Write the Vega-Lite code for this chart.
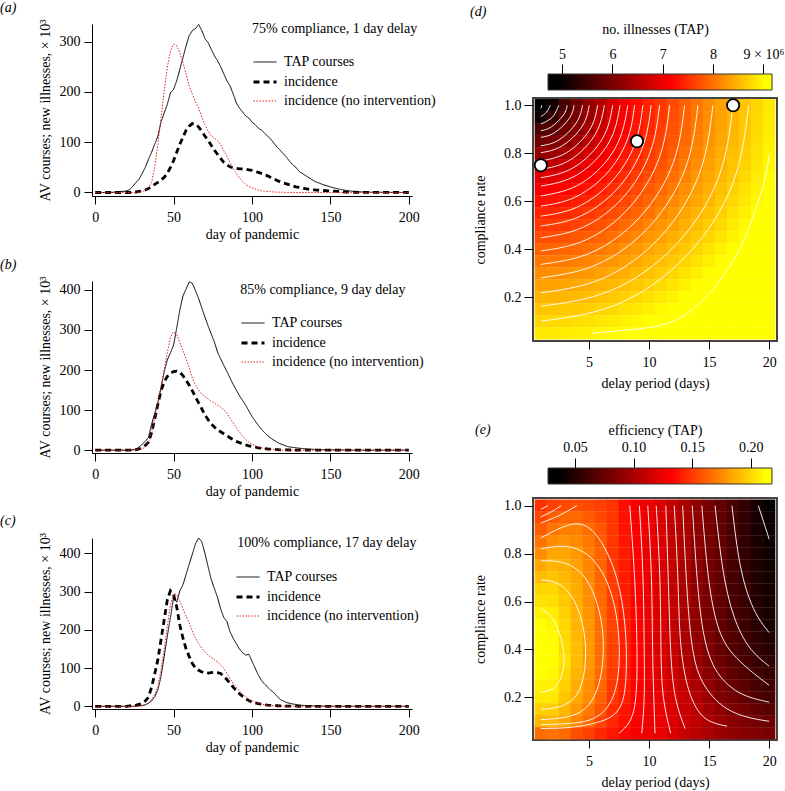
{
"$schema":"https://vega.github.io/schema/vega-lite/v6.json",
"padding":0,
"background":"white",
"config":{"font":"Liberation Serif","view":{"stroke":null},
"axis":{"labelFont":"Liberation Serif","titleFont":"Liberation Serif","labelFontSize":14,"titleFontSize":14,"titleFontWeight":"normal","labelColor":"#000","titleColor":"#000","domainColor":"#000","tickColor":"#000","grid":false,"tickSize":8,"domainWidth":1,"tickWidth":1},
"legend":{"labelFont":"Liberation Serif","labelFontSize":14,"labelColor":"#000"},
"title":{"font":"Liberation Serif","fontSize":14,"fontWeight":"normal","color":"#000"}},
"datasets":{
"lines":[
{"panel":"a","day":[0,10,20,22,24,26,28,30,32,34,36,38,40,42,44,46,48,50,52,54,56,58,60,62,64,66,68,70,72,74,76,78,80,82,84,86,88,90,92,94,96,98,100,102,104,106,108,110,112,114,116,118,120,122,124,126,128,130,135,140,145,150,155,160,165,170,175,200],
"TAP courses":[0,0,3,6,12,20,26,38,50,66,80,96,112,140,158,175,198,205,222,245,268,292,312,322,326,334,322,306,298,285,272,262,250,236,222,212,196,178,168,160,152,148,140,135,128,124,118,112,106,98,90,84,77,70,62,55,50,42,32,22,16,11,7,4,2,1,0.5,0],
"incidence":[0,0,0,0,1,1,2,3,5,8,12,16,20,25,30,38,50,63,80,96,110,124,132,137,136,130,122,112,104,94,84,76,68,60,55,51,49,48,47,47,46,45,44,42,40,38,36,33,30,27,24,21,19,17,15,13,11,10,7,5,4,3,2,1,0.5,0.3,0.2,0],
"incidence (no intervention)":[0,0,0,0,0,0,1,2,4,8,20,50,96,149,200,248,281,295,292,278,258,235,212,195,180,168,150,135,122,113,108,103,95,83,72,60,48,38,29,22,16,12,9,7,5,3.5,2.5,2,1.5,1,0.7,0.5,0.3,0,0,0,0,0,0,0,0,0,0,0,0,0,0,0]},
{"panel":"b","day":[0,10,20,22,24,26,28,30,32,34,36,38,40,42,44,46,48,50,52,54,56,58,60,62,64,66,68,70,72,74,76,78,80,82,84,86,88,90,92,94,96,98,100,102,104,106,108,110,112,114,116,118,120,122,124,126,128,130,135,140,145,150,155,160,165,170,175,200],
"TAP courses":[0,0,0,0,1,3,8,15,22,32,65,92,118,156,195,225,243,262,305,350,385,402,420,416,398,378,355,332,310,290,270,245,228,212,196,180,164,150,136,124,112,98,84,73,62,52,44,36,30,25,20,16,13,10,8,7,6,5,3,2,1.5,1,0.5,0.3,0,0,0,0],
"incidence":[0,0,0,0,0,1,3,6,12,20,44,78,115,148,170,184,192,196,197,194,186,174,162,148,132,118,103,88,76,66,58,51,46,41,36,31,26,22,19,16,13,11,9,8,6,5,4,3,2.5,2,1.5,1,0.8,0.6,0.5,0.4,0.3,0.2,0,0,0,0,0,0,0,0,0,0],
"incidence (no intervention)":[0,0,0,0,0,1,2,3,8,20,45,80,120,160,200,243,281,295,288,268,248,228,205,180,162,150,140,133,128,122,118,112,108,101,93,80,68,56,45,34,27,20,15,11,8,6,4,3,2,1.5,1,0.7,0.5,0.3,0,0,0,0,0,0,0,0,0,0,0,0,0,0]},
{"panel":"c","day":[0,10,20,22,24,26,28,30,32,34,36,38,40,42,44,46,48,50,52,54,56,58,60,62,64,66,68,70,72,74,76,78,80,82,84,86,88,90,92,94,96,98,100,102,104,106,108,110,112,114,116,118,120,122,124,126,128,130,135,140,145,150,155,160,165,170,175,200],
"TAP courses":[0,0,0,0,0,1,1,2,4,8,14,25,43,78,130,183,232,285,272,302,318,345,372,398,425,440,430,400,365,332,308,285,255,232,222,195,178,164,150,140,134,136,118,100,82,68,58,50,42,35,26,18,14,10,8,6,5,3,2,1,0.5,0.3,0,0,0,0,0,0],
"incidence":[0,0,0,1,2,3,5,9,14,24,50,85,122,174,226,278,302,292,260,212,178,150,130,112,100,94,90,88,87,88,89,88,86,78,70,60,50,41,33,26,20,15,11,9,7,5.5,4,3,2.5,2,1.5,1,0.8,0.6,0.5,0.4,0.3,0.2,0,0,0,0,0,0,0,0,0,0],
"incidence (no intervention)":[0,0,0,0,0,0,1,2,4,9,18,32,52,95,148,209,265,294,292,275,255,235,218,197,178,164,152,142,134,128,122,116,108,100,86,72,60,50,40,32,24,18,14,11,8,6,4,3,2,1.5,1,0.7,0.5,0.3,0,0,0,0,0,0,0,0,0,0,0,0,0,0]}
],
"heatD":[
{"compliance":1.0,"delay":[1,2,3,4,5,6,7,8,9,10,11,12,13,14,15,16,17,18,19,20],"illnesses":[4.73,5.10,5.57,5.91,6.21,6.53,6.85,7.08,7.27,7.43,7.58,7.73,7.88,8.04,8.20,8.35,8.49,8.62,8.75,8.88]},
{"compliance":0.95,"delay":[1,2,3,4,5,6,7,8,9,10,11,12,13,14,15,16,17,18,19,20],"illnesses":[5.10,5.40,5.72,5.99,6.27,6.60,6.89,7.11,7.29,7.44,7.59,7.74,7.89,8.05,8.21,8.36,8.50,8.63,8.76,8.89]},
{"compliance":0.9,"delay":[1,2,3,4,5,6,7,8,9,10,11,12,13,14,15,16,17,18,19,20],"illnesses":[5.57,5.72,5.91,6.14,6.40,6.71,6.97,7.16,7.33,7.47,7.62,7.77,7.91,8.07,8.23,8.38,8.51,8.64,8.77,8.91]},
{"compliance":0.85,"delay":[1,2,3,4,5,6,7,8,9,10,11,12,13,14,15,16,17,18,19,20],"illnesses":[5.91,5.99,6.14,6.34,6.60,6.85,7.06,7.23,7.38,7.52,7.66,7.80,7.95,8.11,8.27,8.40,8.53,8.66,8.80,8.93]},
{"compliance":0.8,"delay":[1,2,3,4,5,6,7,8,9,10,11,12,13,14,15,16,17,18,19,20],"illnesses":[6.21,6.27,6.40,6.60,6.80,7.00,7.16,7.31,7.44,7.58,7.71,7.85,8.00,8.16,8.31,8.44,8.56,8.69,8.83,8.95]},
{"compliance":0.75,"delay":[1,2,3,4,5,6,7,8,9,10,11,12,13,14,15,16,17,18,19,20],"illnesses":[6.53,6.60,6.71,6.85,7.00,7.14,7.27,7.40,7.52,7.65,7.78,7.91,8.06,8.21,8.35,8.48,8.60,8.72,8.86,8.98]},
{"compliance":0.7,"delay":[1,2,3,4,5,6,7,8,9,10,11,12,13,14,15,16,17,18,19,20],"illnesses":[6.85,6.89,6.97,7.06,7.16,7.27,7.38,7.49,7.60,7.73,7.85,7.99,8.13,8.28,8.40,8.52,8.64,8.77,8.90,9.02]},
{"compliance":0.65,"delay":[1,2,3,4,5,6,7,8,9,10,11,12,13,14,15,16,17,18,19,20],"illnesses":[7.08,7.11,7.16,7.23,7.31,7.40,7.49,7.59,7.70,7.82,7.94,8.07,8.21,8.34,8.46,8.58,8.70,8.83,8.94,9.06]},
{"compliance":0.6,"delay":[1,2,3,4,5,6,7,8,9,10,11,12,13,14,15,16,17,18,19,20],"illnesses":[7.27,7.29,7.33,7.38,7.44,7.52,7.60,7.70,7.80,7.91,8.04,8.17,8.30,8.41,8.52,8.64,8.76,8.88,8.99,9.10]},
{"compliance":0.55,"delay":[1,2,3,4,5,6,7,8,9,10,11,12,13,14,15,16,17,18,19,20],"illnesses":[7.43,7.44,7.47,7.52,7.58,7.65,7.73,7.82,7.91,8.02,8.15,8.27,8.38,8.49,8.59,8.70,8.83,8.94,9.05,9.14]},
{"compliance":0.5,"delay":[1,2,3,4,5,6,7,8,9,10,11,12,13,14,15,16,17,18,19,20],"illnesses":[7.58,7.59,7.62,7.66,7.71,7.78,7.85,7.94,8.04,8.15,8.26,8.36,8.46,8.56,8.67,8.77,8.89,9.00,9.10,9.18]},
{"compliance":0.45,"delay":[1,2,3,4,5,6,7,8,9,10,11,12,13,14,15,16,17,18,19,20],"illnesses":[7.73,7.74,7.77,7.80,7.85,7.91,7.99,8.07,8.17,8.27,8.36,8.45,8.55,8.64,8.75,8.86,8.96,9.06,9.15,9.22]},
{"compliance":0.4,"delay":[1,2,3,4,5,6,7,8,9,10,11,12,13,14,15,16,17,18,19,20],"illnesses":[7.88,7.89,7.91,7.95,8.00,8.06,8.13,8.21,8.30,8.38,8.46,8.55,8.64,8.73,8.84,8.94,9.03,9.12,9.19,9.26]},
{"compliance":0.35,"delay":[1,2,3,4,5,6,7,8,9,10,11,12,13,14,15,16,17,18,19,20],"illnesses":[8.04,8.05,8.07,8.11,8.16,8.21,8.28,8.34,8.41,8.49,8.56,8.64,8.73,8.83,8.93,9.02,9.10,9.18,9.24,9.30]},
{"compliance":0.3,"delay":[1,2,3,4,5,6,7,8,9,10,11,12,13,14,15,16,17,18,19,20],"illnesses":[8.20,8.21,8.23,8.27,8.31,8.35,8.40,8.46,8.52,8.59,8.67,8.75,8.84,8.93,9.01,9.09,9.17,9.23,9.29,9.34]},
{"compliance":0.25,"delay":[1,2,3,4,5,6,7,8,9,10,11,12,13,14,15,16,17,18,19,20],"illnesses":[8.35,8.36,8.38,8.40,8.44,8.48,8.52,8.58,8.64,8.70,8.77,8.86,8.94,9.02,9.09,9.16,9.22,9.28,9.33,9.37]},
{"compliance":0.2,"delay":[1,2,3,4,5,6,7,8,9,10,11,12,13,14,15,16,17,18,19,20],"illnesses":[8.49,8.50,8.51,8.53,8.56,8.60,8.64,8.70,8.76,8.83,8.89,8.96,9.03,9.10,9.17,9.22,9.27,9.32,9.36,9.40]},
{"compliance":0.15,"delay":[1,2,3,4,5,6,7,8,9,10,11,12,13,14,15,16,17,18,19,20],"illnesses":[8.62,8.63,8.64,8.66,8.69,8.72,8.77,8.83,8.88,8.94,9.00,9.06,9.12,9.18,9.23,9.28,9.32,9.36,9.40,9.43]},
{"compliance":0.1,"delay":[1,2,3,4,5,6,7,8,9,10,11,12,13,14,15,16,17,18,19,20],"illnesses":[8.75,8.76,8.77,8.80,8.83,8.86,8.90,8.94,8.99,9.05,9.10,9.15,9.19,9.24,9.29,9.33,9.36,9.40,9.43,9.46]},
{"compliance":0.05,"delay":[1,2,3,4,5,6,7,8,9,10,11,12,13,14,15,16,17,18,19,20],"illnesses":[8.88,8.89,8.91,8.93,8.95,8.98,9.02,9.06,9.10,9.14,9.18,9.22,9.26,9.30,9.34,9.37,9.40,9.43,9.46,9.48]}
],
"heatE":[
{"compliance":1.0,"delay":[1,2,3,4,5,6,7,8,9,10,11,12,13,14,15,16,17,18,19,20],"efficiency":[0.147,0.152,0.155,0.157,0.155,0.152,0.148,0.136,0.129,0.124,0.118,0.109,0.100,0.090,0.081,0.073,0.063,0.055,0.046,0.039]},
{"compliance":0.95,"delay":[1,2,3,4,5,6,7,8,9,10,11,12,13,14,15,16,17,18,19,20],"efficiency":[0.154,0.161,0.164,0.165,0.161,0.155,0.149,0.137,0.130,0.124,0.118,0.109,0.100,0.090,0.081,0.073,0.063,0.055,0.046,0.040]},
{"compliance":0.9,"delay":[1,2,3,4,5,6,7,8,9,10,11,12,13,14,15,16,17,18,19,20],"efficiency":[0.161,0.168,0.172,0.172,0.166,0.159,0.149,0.138,0.130,0.124,0.118,0.109,0.100,0.090,0.081,0.073,0.063,0.055,0.046,0.040]},
{"compliance":0.85,"delay":[1,2,3,4,5,6,7,8,9,10,11,12,13,14,15,16,17,18,19,20],"efficiency":[0.168,0.176,0.178,0.176,0.169,0.161,0.149,0.139,0.131,0.124,0.118,0.109,0.100,0.090,0.081,0.073,0.063,0.055,0.047,0.041]},
{"compliance":0.8,"delay":[1,2,3,4,5,6,7,8,9,10,11,12,13,14,15,16,17,18,19,20],"efficiency":[0.176,0.184,0.184,0.180,0.172,0.163,0.149,0.140,0.132,0.124,0.118,0.109,0.100,0.090,0.081,0.073,0.063,0.056,0.048,0.042]},
{"compliance":0.75,"delay":[1,2,3,4,5,6,7,8,9,10,11,12,13,14,15,16,17,18,19,20],"efficiency":[0.184,0.189,0.187,0.182,0.174,0.163,0.150,0.140,0.132,0.124,0.118,0.109,0.100,0.090,0.081,0.073,0.063,0.056,0.049,0.043]},
{"compliance":0.7,"delay":[1,2,3,4,5,6,7,8,9,10,11,12,13,14,15,16,17,18,19,20],"efficiency":[0.191,0.194,0.190,0.184,0.175,0.164,0.151,0.140,0.132,0.124,0.118,0.109,0.100,0.090,0.081,0.073,0.063,0.057,0.049,0.044]},
{"compliance":0.65,"delay":[1,2,3,4,5,6,7,8,9,10,11,12,13,14,15,16,17,18,19,20],"efficiency":[0.199,0.199,0.193,0.186,0.176,0.165,0.151,0.141,0.132,0.124,0.118,0.109,0.100,0.090,0.081,0.073,0.063,0.058,0.050,0.044]},
{"compliance":0.6,"delay":[1,2,3,4,5,6,7,8,9,10,11,12,13,14,15,16,17,18,19,20],"efficiency":[0.203,0.202,0.195,0.187,0.177,0.165,0.152,0.141,0.132,0.124,0.118,0.109,0.100,0.090,0.081,0.073,0.064,0.058,0.050,0.045]},
{"compliance":0.55,"delay":[1,2,3,4,5,6,7,8,9,10,11,12,13,14,15,16,17,18,19,20],"efficiency":[0.208,0.206,0.197,0.188,0.178,0.166,0.152,0.141,0.132,0.124,0.118,0.109,0.100,0.090,0.081,0.073,0.065,0.059,0.051,0.046]},
{"compliance":0.5,"delay":[1,2,3,4,5,6,7,8,9,10,11,12,13,14,15,16,17,18,19,20],"efficiency":[0.212,0.209,0.199,0.189,0.180,0.166,0.153,0.142,0.132,0.124,0.118,0.109,0.100,0.090,0.081,0.073,0.065,0.059,0.052,0.046]},
{"compliance":0.45,"delay":[1,2,3,4,5,6,7,8,9,10,11,12,13,14,15,16,17,18,19,20],"efficiency":[0.214,0.211,0.200,0.190,0.180,0.166,0.153,0.141,0.132,0.124,0.118,0.110,0.100,0.091,0.083,0.074,0.067,0.061,0.054,0.049]},
{"compliance":0.4,"delay":[1,2,3,4,5,6,7,8,9,10,11,12,13,14,15,16,17,18,19,20],"efficiency":[0.215,0.212,0.201,0.191,0.180,0.166,0.152,0.141,0.132,0.124,0.118,0.110,0.101,0.093,0.084,0.075,0.068,0.062,0.056,0.051]},
{"compliance":0.35,"delay":[1,2,3,4,5,6,7,8,9,10,11,12,13,14,15,16,17,18,19,20],"efficiency":[0.216,0.213,0.203,0.191,0.180,0.166,0.152,0.141,0.132,0.124,0.119,0.111,0.101,0.094,0.085,0.077,0.069,0.063,0.058,0.054]},
{"compliance":0.3,"delay":[1,2,3,4,5,6,7,8,9,10,11,12,13,14,15,16,17,18,19,20],"efficiency":[0.212,0.210,0.200,0.189,0.178,0.165,0.151,0.140,0.132,0.125,0.120,0.113,0.105,0.097,0.088,0.079,0.072,0.067,0.060,0.057]},
{"compliance":0.25,"delay":[1,2,3,4,5,6,7,8,9,10,11,12,13,14,15,16,17,18,19,20],"efficiency":[0.208,0.207,0.197,0.187,0.177,0.164,0.150,0.140,0.132,0.126,0.122,0.115,0.108,0.100,0.091,0.082,0.075,0.070,0.063,0.060]},
{"compliance":0.2,"delay":[1,2,3,4,5,6,7,8,9,10,11,12,13,14,15,16,17,18,19,20],"efficiency":[0.205,0.205,0.194,0.186,0.176,0.163,0.149,0.140,0.132,0.126,0.124,0.118,0.111,0.103,0.094,0.084,0.079,0.073,0.066,0.063]},
{"compliance":0.15,"delay":[1,2,3,4,5,6,7,8,9,10,11,12,13,14,15,16,17,18,19,20],"efficiency":[0.197,0.197,0.189,0.180,0.170,0.158,0.146,0.138,0.132,0.126,0.124,0.118,0.112,0.105,0.097,0.089,0.083,0.079,0.073,0.070]},
{"compliance":0.1,"delay":[1,2,3,4,5,6,7,8,9,10,11,12,13,14,15,16,17,18,19,20],"efficiency":[0.189,0.189,0.184,0.174,0.165,0.153,0.144,0.137,0.131,0.126,0.124,0.119,0.113,0.107,0.101,0.094,0.088,0.084,0.080,0.077]},
{"compliance":0.05,"delay":[1,2,3,4,5,6,7,8,9,10,11,12,13,14,15,16,17,18,19,20],"efficiency":[0.166,0.168,0.165,0.157,0.152,0.144,0.139,0.134,0.129,0.126,0.124,0.118,0.111,0.105,0.100,0.094,0.090,0.087,0.084,0.081]}
],
"contD":[
{"id":"d1","k":[0,1],"delay":[1.10,1.0],"compliance":[1.0,0.987]},
{"id":"d2","k":[0,1,2],"delay":[1.79,1.46,1.0],"compliance":[1.0,0.970,0.953]},
{"id":"d3","k":[0,1,2],"delay":[2.50,1.96,1.0],"compliance":[1.0,0.950,0.922]},
{"id":"d4","k":[0,1,2,3],"delay":[3.20,2.88,1.88,1.0],"compliance":[1.0,0.959,0.910,0.894]},
{"id":"d5","k":[0,1,2,3],"delay":[3.77,3.37,2.16,1.0],"compliance":[1.0,0.945,0.886,0.866]},
{"id":"d6","k":[0,1,2,3],"delay":[4.47,3.96,2.5,1.0],"compliance":[1.0,0.927,0.855,0.831]},
{"id":"d7","k":[0,1,2,3],"delay":[5.03,4.45,2.78,1.0],"compliance":[1.0,0.913,0.831,0.802]},
{"id":"d8","k":[0,1,2,3],"delay":[5.73,5.05,3.13,1.0],"compliance":[1.0,0.896,0.802,0.768]},
{"id":"d9","k":[0,1,2,3],"delay":[6.29,5.53,3.41,1.0],"compliance":[1.0,0.879,0.771,0.733]},
{"id":"d10","k":[0,1,2,3],"delay":[6.98,6.13,3.75,1.0],"compliance":[1.0,0.861,0.741,0.698]},
{"id":"d11","k":[0,1,2,3],"delay":[7.59,6.66,4.06,1.0],"compliance":[1.0,0.844,0.711,0.663]},
{"id":"d12","k":[0,1,2,3],"delay":[8.24,7.21,4.38,1.0],"compliance":[1.0,0.823,0.675,0.622]},
{"id":"d13","k":[0,1,2,3,4],"delay":[8.80,8.18,6.38,3.68,1.0],"compliance":[1.0,0.854,0.710,0.613,0.580]},
{"id":"d14","k":[0,1,2,3,4],"delay":[9.49,8.82,6.86,3.95,1.0],"compliance":[1.0,0.838,0.680,0.574,0.538]},
{"id":"d15","k":[0,1,2,3,4],"delay":[10.18,9.45,7.35,4.21,1.0],"compliance":[1.0,0.822,0.651,0.536,0.497]},
{"id":"d16","k":[0,1,2,3,4],"delay":[10.88,10.10,7.85,4.48,1.0],"compliance":[1.0,0.804,0.616,0.491,0.448]},
{"id":"d17","k":[0,1,2,3,4],"delay":[11.71,10.87,8.43,4.80,1.0],"compliance":[1.0,0.783,0.577,0.440,0.393]},
{"id":"d18","k":[0,1,2,3,4],"delay":[12.96,12.02,9.32,5.28,1.0],"compliance":[1.0,0.761,0.538,0.388,0.337]},
{"id":"d19","k":[0,1,2,3,4],"delay":[14.07,13.05,10.10,5.70,1.0],"compliance":[1.0,0.740,0.498,0.337,0.281]},
{"id":"d20","k":[0,1,2,3,4],"delay":[15.32,14.20,10.99,6.18,1.0],"compliance":[1.0,0.716,0.454,0.279,0.219]},
{"id":"d21","k":[0,1,2,3,4],"delay":[16.99,15.75,12.17,6.82,1.0],"compliance":[1.0,0.694,0.415,0.228,0.163]},
{"id":"d22","k":[0,1,2,3,4],"delay":[18.29,16.95,13.08,7.32,1.0],"compliance":[1.0,0.671,0.371,0.170,0.101]},
{"id":"d23","k":[0,1,2,3,4,5,6,7,8],"delay":[20.0,19.53,18.42,17.31,15.64,13.42,11.19,8.42,5.22],"compliance":[0.794,0.669,0.503,0.378,0.253,0.142,0.086,0.065,0.05]}
],
"contE":[
{"id":"e1","k":[0,1],"delay":[1.0,1.6],"compliance":[0.985,1.0]},
{"id":"e2","k":[0,1,2],"delay":[1.0,1.9,2.7],"compliance":[0.953,0.975,1.0]},
{"id":"e3","k":[0,1,2],"delay":[1.0,2.5,4.0],"compliance":[0.928,0.958,1.0]},
{"id":"e4","k":[0,1,2,3,4,5,6,7,8,9,10],"delay":[1.0,2.8,4.5,6.0,7.3,8.0,8.1,7.6,6.0,3.5,1.0],"compliance":[0.865,0.91,0.92,0.85,0.7,0.5,0.3,0.16,0.1,0.075,0.07]},
{"id":"e5","k":[0,1,2,3,4,5,6,7,8,9],"delay":[1.0,3.0,5.0,6.6,7.4,7.5,6.9,5.3,3.0,1.0],"compliance":[0.82,0.83,0.79,0.67,0.5,0.33,0.19,0.11,0.09,0.086]},
{"id":"e6","k":[0,1,2,3,4,5,6,7,8],"delay":[1.0,3.0,4.8,5.9,6.2,5.8,4.6,2.8,1.0],"compliance":[0.77,0.76,0.69,0.55,0.4,0.25,0.15,0.115,0.107]},
{"id":"e7","k":[0,1,2,3,4,5,6,7],"delay":[1.0,2.6,3.9,4.6,4.7,4.2,2.8,1.0],"compliance":[0.69,0.67,0.59,0.47,0.35,0.23,0.165,0.15]},
{"id":"e8","k":[0,1,2,3,4,5],"delay":[1.0,2.1,2.8,2.9,2.3,1.0],"compliance":[0.57,0.52,0.42,0.33,0.25,0.22]},
{"id":"e9","k":[0,1,2,3,4,5],"delay":[8.4,8.8,9.0,8.9,8.4,7.5],"compliance":[1.0,0.7,0.4,0.2,0.1,0.05]},
{"id":"e10","k":[0,1,2,3,4],"delay":[9.2,9.5,9.6,9.6,9.4],"compliance":[1.0,0.7,0.4,0.2,0.05]},
{"id":"e11","k":[0,1,2,3,4],"delay":[9.9,10.2,10.3,10.4,10.5],"compliance":[1.0,0.7,0.4,0.2,0.05]},
{"id":"e12","k":[0,1,2,3,4],"delay":[10.6,10.9,11.0,11.2,11.8],"compliance":[1.0,0.7,0.4,0.2,0.05]},
{"id":"e13","k":[0,1,2,3,4],"delay":[11.4,11.6,11.8,12.2,13.0],"compliance":[1.0,0.7,0.4,0.2,0.07]},
{"id":"e14","k":[0,1,2,3,4,5],"delay":[12.1,12.4,12.6,13.2,14.5,16.5],"compliance":[1.0,0.7,0.45,0.25,0.12,0.08]},
{"id":"e15","k":[0,1,2,3,4,5,6],"delay":[12.8,13.1,13.5,14.3,16,18,20],"compliance":[1.0,0.7,0.45,0.28,0.17,0.12,0.1]},
{"id":"e16","k":[0,1,2,3,4,5],"delay":[13.6,14.0,14.5,15.5,17.5,20],"compliance":[1.0,0.7,0.48,0.32,0.22,0.18]},
{"id":"e17","k":[0,1,2,3,4],"delay":[14.4,14.9,15.6,17,20],"compliance":[1.0,0.72,0.52,0.38,0.25]},
{"id":"e18","k":[0,1,2,3,4],"delay":[15.5,16.2,17.2,18.5,20],"compliance":[1.0,0.72,0.52,0.4,0.33]},
{"id":"e19","k":[0,1,2,3],"delay":[16.9,17.6,18.7,20],"compliance":[1.0,0.75,0.57,0.47]},
{"id":"e20","k":[0,1],"delay":[19.1,20],"compliance":[1.0,0.86]}
],
"ptsD":[{"delay":1,"compliance":0.75},{"delay":9,"compliance":0.85},{"delay":17,"compliance":1.0}]
},
"spacing":34,
"hconcat":[
{"vconcat":[
{"width":320,"height":172,
"title":{"text":"(a)","anchor":"start","frame":"group","dx":-92,"offset":4,"fontStyle":"italic"},
"layer":[
{"data":{"name":"lines"},
"transform":[{"filter":"datum.panel == 'a'"},{"flatten":["day","TAP courses","incidence","incidence (no intervention)"]},{"fold":["TAP courses","incidence","incidence (no intervention)"],"as":["series","value"]}],
"mark":{"type":"line"},
"encoding":{
"x":{"field":"day","type":"quantitative","scale":{"domain":[-2,202],"nice":false,"zero":false},"axis":{"values":[0,50,100,150,200],"title":"day of pandemic","labelPadding":6,"titlePadding":3}},
"y":{"field":"value","type":"quantitative","scale":{"domain":[-7,335],"nice":false,"zero":false},"axis":{"values":[0,50,100,150,200,250,300],"title":"AV courses; new illnesses, × 10³","labelPadding":4,"titlePadding":7}},
"color":{"field":"series","type":"nominal","scale":{"domain":["TAP courses","incidence","incidence (no intervention)"],"range":["#000000","#000000","#e8221e"]},"legend":{"orient":"none","legendX":160,"legendY":26,"title":null,"symbolType":"stroke","symbolSize":529,"labelOffset":6,"rowPadding":-8,"labelLimit":300}},
"strokeDash":{"field":"series","type":"nominal","scale":{"domain":["TAP courses","incidence","incidence (no intervention)"],"range":[[1,0],[6,4],[1.5,1.5]]},"legend":{"orient":"none","legendX":160,"legendY":26,"title":null,"symbolType":"stroke","symbolSize":529,"labelOffset":6,"rowPadding":-8,"labelLimit":300}},
"strokeWidth":{"field":"series","type":"nominal","scale":{"type":"ordinal","domain":["TAP courses","incidence","incidence (no intervention)"],"range":[1,2.8,1]},"legend":{"orient":"none","legendX":160,"legendY":26,"title":null,"symbolType":"stroke","symbolSize":529,"labelOffset":6,"rowPadding":-8,"labelLimit":300}}}},
{"data":{"values":[{}]},"mark":{"type":"text","text":"75% compliance, 1 day delay","align":"left","baseline":"middle","fontSize":14,"font":"Liberation Serif","color":"#000"},
"encoding":{"x":{"datum":100},"y":{"datum":325}}}
]},
{"width":320,"height":172,
"title":{"text":"(b)","anchor":"start","frame":"group","dx":-92,"offset":4,"fontStyle":"italic"},
"layer":[
{"data":{"name":"lines"},
"transform":[{"filter":"datum.panel == 'b'"},{"flatten":["day","TAP courses","incidence","incidence (no intervention)"]},{"fold":["TAP courses","incidence","incidence (no intervention)"],"as":["series","value"]}],
"mark":{"type":"line"},
"encoding":{
"x":{"field":"day","type":"quantitative","scale":{"domain":[-2,202],"nice":false,"zero":false},"axis":{"values":[0,50,100,150,200],"title":"day of pandemic","labelPadding":6,"titlePadding":3}},
"y":{"field":"value","type":"quantitative","scale":{"domain":[-7,422],"nice":false,"zero":false},"axis":{"values":[0,100,200,300,400],"title":"AV courses; new illnesses, × 10³","labelPadding":4,"titlePadding":7}},
"color":{"field":"series","type":"nominal","scale":{"domain":["TAP courses","incidence","incidence (no intervention)"],"range":["#000000","#000000","#e8221e"]},"legend":{"orient":"none","legendX":148,"legendY":30,"title":null,"symbolType":"stroke","symbolSize":529,"labelOffset":6,"rowPadding":-8,"labelLimit":300}},
"strokeDash":{"field":"series","type":"nominal","scale":{"domain":["TAP courses","incidence","incidence (no intervention)"],"range":[[1,0],[6,4],[1.5,1.5]]},"legend":{"orient":"none","legendX":148,"legendY":30,"title":null,"symbolType":"stroke","symbolSize":529,"labelOffset":6,"rowPadding":-8,"labelLimit":300}},
"strokeWidth":{"field":"series","type":"nominal","scale":{"type":"ordinal","domain":["TAP courses","incidence","incidence (no intervention)"],"range":[1,2.8,1]},"legend":{"orient":"none","legendX":148,"legendY":30,"title":null,"symbolType":"stroke","symbolSize":529,"labelOffset":6,"rowPadding":-8,"labelLimit":300}}}},
{"data":{"values":[{}]},"mark":{"type":"text","text":"85% compliance, 9 day delay","align":"left","baseline":"middle","fontSize":14,"font":"Liberation Serif","color":"#000"},
"encoding":{"x":{"datum":92.5},"y":{"datum":400}}}
]},
{"width":320,"height":171,
"title":{"text":"(c)","anchor":"start","frame":"group","dx":-92,"offset":4,"fontStyle":"italic"},
"layer":[
{"data":{"name":"lines"},
"transform":[{"filter":"datum.panel == 'c'"},{"flatten":["day","TAP courses","incidence","incidence (no intervention)"]},{"fold":["TAP courses","incidence","incidence (no intervention)"],"as":["series","value"]}],
"mark":{"type":"line"},
"encoding":{
"x":{"field":"day","type":"quantitative","scale":{"domain":[-2,202],"nice":false,"zero":false},"axis":{"values":[0,50,100,150,200],"title":"day of pandemic","labelPadding":6,"titlePadding":3}},
"y":{"field":"value","type":"quantitative","scale":{"domain":[-7,440],"nice":false,"zero":false},"axis":{"values":[0,100,200,300,400],"title":"AV courses; new illnesses, × 10³","labelPadding":4,"titlePadding":7}},
"color":{"field":"series","type":"nominal","scale":{"domain":["TAP courses","incidence","incidence (no intervention)"],"range":["#000000","#000000","#e8221e"]},"legend":{"orient":"none","legendX":143,"legendY":27,"title":null,"symbolType":"stroke","symbolSize":529,"labelOffset":6,"rowPadding":-8,"labelLimit":300}},
"strokeDash":{"field":"series","type":"nominal","scale":{"domain":["TAP courses","incidence","incidence (no intervention)"],"range":[[1,0],[6,4],[1.5,1.5]]},"legend":{"orient":"none","legendX":143,"legendY":27,"title":null,"symbolType":"stroke","symbolSize":529,"labelOffset":6,"rowPadding":-8,"labelLimit":300}},
"strokeWidth":{"field":"series","type":"nominal","scale":{"type":"ordinal","domain":["TAP courses","incidence","incidence (no intervention)"],"range":[1,2.8,1]},"legend":{"orient":"none","legendX":143,"legendY":27,"title":null,"symbolType":"stroke","symbolSize":529,"labelOffset":6,"rowPadding":-8,"labelLimit":300}}}},
{"data":{"values":[{}]},"mark":{"type":"text","text":"100% compliance, 17 day delay","align":"left","baseline":"middle","fontSize":14,"font":"Liberation Serif","color":"#000"},
"encoding":{"x":{"datum":90.6},"y":{"datum":427}}}
]}
],"spacing":16,
"resolve":{"scale":{"color":"independent","strokeDash":"independent","strokeWidth":"independent","x":"independent","y":"independent"},"legend":{"color":"independent","strokeDash":"independent","strokeWidth":"independent"}}},
{"vconcat":[
{"vconcat":[
{"width":244,"height":66,
"title":{"text":"(d)","anchor":"start","frame":"group","dx":-63,"offset":3,"fontStyle":"italic"},
"data":{"values":[{"lo":4.72,"hi":9.17}]},
"mark":{"type":"rect","stroke":"#333","strokeWidth":1,"fill":{"gradient":"linear","x1":0,"y1":0,"x2":1,"y2":0,"stops":[{"offset":0,"color":"#000000"},{"offset":0.05,"color":"#000000"},{"offset":0.55,"color":"#ff0000"},{"offset":0.97,"color":"#ffff00"},{"offset":1,"color":"#ffff00"}]}},
"encoding":{"x":{"field":"lo","type":"quantitative","scale":{"domain":[4.422,9.269],"nice":false,"zero":false},"axis":{"orient":"top","offset":-50,"values":[5,6,7,8,9],"labelExpr":"datum.value == 9 ? '9 × 10⁶' : datum.label","title":"no. illnesses (TAP)","tickSize":10,"domain":false,"labelPadding":3,"titlePadding":11}},"x2":{"field":"hi"},"y":{"value":50},"y2":{"value":66}}},
{"width":244,"height":243,
"view":{"stroke":"#444","strokeWidth":2},
"layer":[
{"data":{"name":"heatD"},"transform":[{"flatten":["delay","illnesses"]}],
"mark":{"type":"rect","width":12.3,"height":12.3},
"encoding":{
"x":{"field":"delay","type":"quantitative","scale":{"domain":[0.35,20.65],"nice":false,"zero":false},"axis":{"values":[5,10,15,20],"title":"delay period (days)","tickSize":8,"labelPadding":6,"titlePadding":7,"domain":false}},
"y":{"field":"compliance","type":"quantitative","scale":{"domain":[0.018,1.03],"nice":false,"zero":false},"axis":{"values":[0.2,0.4,0.6,0.8,1.0],"format":".1f","title":"compliance rate","tickSize":9,"labelPadding":3,"titlePadding":16,"domain":false}},
"color":{"field":"illnesses","type":"quantitative","scale":{"domain":[4.72,4.94,7.17,9.04,9.17],"range":["#000000","#000000","#ff0000","#ffff00","#ffff00"],"interpolate":"rgb","clamp":true},"legend":null}}},
{"data":{"name":"contD"},"transform":[{"flatten":["k","delay","compliance"]}],
"mark":{"type":"line","color":"#ffffff","strokeWidth":1,"interpolate":"natural","opacity":0.9},
"encoding":{"x":{"field":"delay","type":"quantitative"},"y":{"field":"compliance","type":"quantitative"},"detail":{"field":"id"},"order":{"field":"k","type":"quantitative"}}},
{"data":{"name":"ptsD"},
"mark":{"type":"point","filled":true,"fill":"#ffffff","stroke":"#000000","strokeWidth":1.8,"size":150,"opacity":1},
"encoding":{"x":{"field":"delay","type":"quantitative"},"y":{"field":"compliance","type":"quantitative"}}}
]}
],"spacing":3},
{"vconcat":[
{"width":244,"height":16,
"title":{"text":"(e)","anchor":"start","frame":"group","dx":-58,"offset":-14,"fontStyle":"italic"},
"data":{"values":[{"lo":0.027,"hi":0.218}]},
"mark":{"type":"rect","stroke":"#333","strokeWidth":1,"fill":{"gradient":"linear","x1":0,"y1":0,"x2":1,"y2":0,"stops":[{"offset":0,"color":"#000000"},{"offset":0.05,"color":"#000000"},{"offset":0.55,"color":"#ff0000"},{"offset":0.97,"color":"#ffff00"},{"offset":1,"color":"#ffff00"}]}},
"encoding":{"x":{"field":"lo","type":"quantitative","scale":{"domain":[0.0142,0.2223],"nice":false,"zero":false},"axis":{"orient":"top","values":[0.05,0.1,0.15,0.2],"format":".2f","title":"efficiency (TAP)","tickSize":10,"domain":false,"labelPadding":4,"titlePadding":3}},"x2":{"field":"hi"}}},
{"width":244,"height":242,
"view":{"stroke":"#444","strokeWidth":2},
"layer":[
{"data":{"name":"heatE"},"transform":[{"flatten":["delay","efficiency"]}],
"mark":{"type":"rect","width":12.3,"height":12.3},
"encoding":{
"x":{"field":"delay","type":"quantitative","scale":{"domain":[0.35,20.65],"nice":false,"zero":false},"axis":{"values":[5,10,15,20],"title":"delay period (days)","tickSize":8,"labelPadding":6,"titlePadding":7,"domain":false}},
"y":{"field":"compliance","type":"quantitative","scale":{"domain":[0.022,1.032],"nice":false,"zero":false},"axis":{"values":[0.2,0.4,0.6,0.8,1.0],"format":".1f","title":"compliance rate","tickSize":9,"labelPadding":3,"titlePadding":16,"domain":false}},
"color":{"field":"efficiency","type":"quantitative","scale":{"domain":[0.027,0.037,0.132,0.212,0.218],"range":["#000000","#000000","#ff0000","#ffff00","#ffff00"],"interpolate":"rgb","clamp":true},"legend":null}}},
{"data":{"name":"contE"},"transform":[{"flatten":["k","delay","compliance"]}],
"mark":{"type":"line","color":"#ffffff","strokeWidth":1,"interpolate":"natural","opacity":0.9},
"encoding":{"x":{"field":"delay","type":"quantitative"},"y":{"field":"compliance","type":"quantitative"},"detail":{"field":"id"},"order":{"field":"k","type":"quantitative"}}}
]}
],"spacing":12}
],"spacing":32,
"resolve":{"scale":{"color":"independent","x":"independent","y":"independent"}}}
]
}
